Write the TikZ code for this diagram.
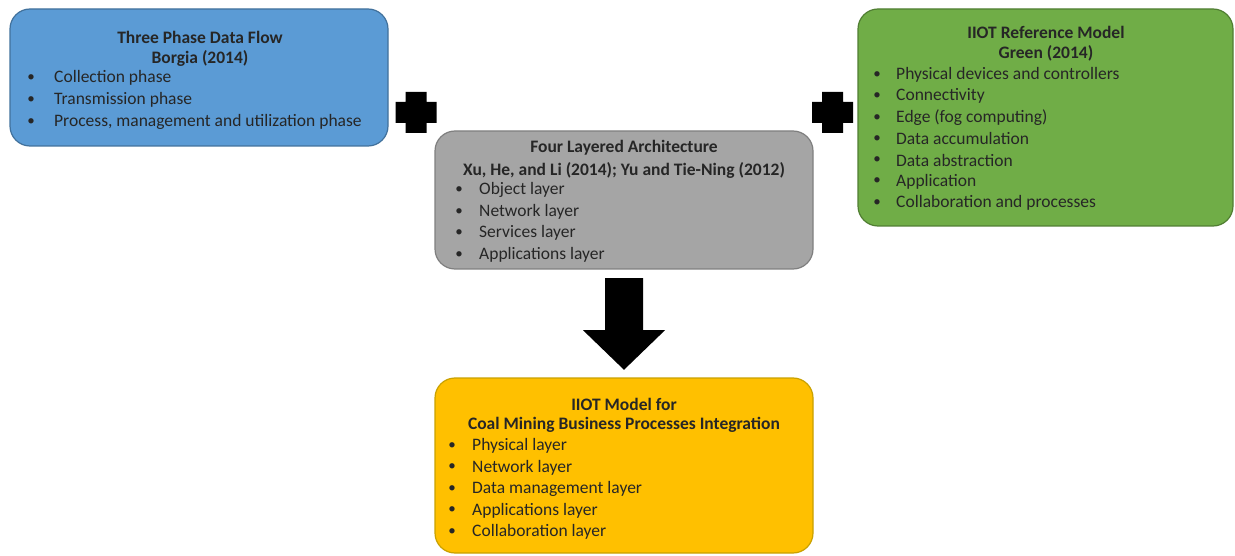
\documentclass[tikz,border=0pt]{standalone}
\usepackage{fontspec}
\setmainfont{Carlito}
\usetikzlibrary{calc}
\definecolor{bluefill}{HTML}{5B9BD5}
\definecolor{blueline}{HTML}{41719C}
\definecolor{greenfill}{HTML}{70AD47}
\definecolor{greenline}{HTML}{507E32}
\definecolor{grayfill}{HTML}{A5A5A5}
\definecolor{grayline}{HTML}{7F7F7F}
\definecolor{goldfill}{HTML}{FFC000}
\definecolor{goldline}{HTML}{C9A100}
\definecolor{inktext}{HTML}{262626}
\tikzset{
  panel/.style={rounded corners=20pt, line width=1.2pt},
  headline/.style={font=\fontsize{17.5}{21}\selectfont\bfseries, text=inktext, inner sep=0pt, anchor=center},
  item/.style={font=\fontsize{17.5}{21}\selectfont, text=inktext, inner sep=0pt, anchor=west},
  dot/.style={font=\fontsize{15}{19}\selectfont, text=inktext, inner sep=0pt, anchor=center},
}
\begin{document}
\begin{tikzpicture}[x=1pt,y=-1pt]
\useasboundingbox (0,0) rectangle (1235,556);

% boxes
\draw[panel, fill=bluefill, draw=blueline] (10,9) rectangle (388,146);
\node[inner sep=0pt, minimum width=378pt, minimum height=137pt] (phase) at (199,77.5) {};
\draw[panel, fill=greenfill, draw=greenline] (858,9) rectangle (1233,226);
\node[inner sep=0pt, minimum width=375pt, minimum height=217pt] (iiotref) at (1045.5,117.5) {};
\draw[panel, fill=grayfill, draw=grayline] (435,131) rectangle (813,269);
\node[inner sep=0pt, minimum width=378pt, minimum height=138pt] (four) at (624,200) {};
\draw[panel, fill=goldfill, draw=goldline] (435,378) rectangle (813,553);
\node[inner sep=0pt, minimum width=378pt, minimum height=175pt] (coal) at (624,465.5) {};

% blue box text
\node[headline] at (200,37) {Three Phase Data Flow};
\node[headline] at (200,58) {Borgia (2014)};
\foreach \t [count=\i] in {Collection phase, Transmission phase, {Process, management and utilization phase}}{
  \node[dot] at (31,{78+22*(\i-1)}) {•};
  \node[item] at (54,{78+22*(\i-1)}) {\t};
}

% green box text
\node[headline] at (1046,32) {IIOT Reference Model};
\node[headline] at (1046,53) {Green (2014)};
\foreach \t [count=\i] in {Physical devices and controllers, Connectivity, Edge (fog computing), Data accumulation, Data abstraction, Application, Collaboration and processes}{
  \node[dot] at (877,{75+21.3*(\i-1)}) {•};
  \node[item] at (896,{75+21.3*(\i-1)}) {\t};
}

% gray box text
\node[headline] at (624,148) {Four Layered Architecture};
\node[headline] at (624,170) {Xu, He, and Li (2014); Yu and Tie-Ning (2012)};
\foreach \t [count=\i] in {Object layer, Network layer, Services layer, Applications layer}{
  \node[dot] at (459,{190+21.6*(\i-1)}) {•};
  \node[item] at (479,{190+21.6*(\i-1)}) {\t};
}

% gold box text
\node[headline] at (624,404) {IIOT Model for};
\node[headline] at (624,425) {Coal Mining Business Processes Integration};
\foreach \t [count=\i] in {Physical layer, Network layer, Data management layer, Applications layer, Collaboration layer}{
  \node[dot] at (452,{446+21.5*(\i-1)}) {•};
  \node[item] at (472,{446+21.5*(\i-1)}) {\t};
}

% plus signs
\foreach \cx/\cy in {416/112.5, 832.5/112.5}{
  \fill[black] (\cx-10.5,\cy-20.5) -- (\cx+10.5,\cy-20.5) -- (\cx+10.5,\cy-10.5)
    -- (\cx+20.5,\cy-10.5) -- (\cx+20.5,\cy+10.5) -- (\cx+10.5,\cy+10.5)
    -- (\cx+10.5,\cy+20.5) -- (\cx-10.5,\cy+20.5) -- (\cx-10.5,\cy+10.5)
    -- (\cx-20.5,\cy+10.5) -- (\cx-20.5,\cy-10.5) -- (\cx-10.5,\cy-10.5) -- cycle;
}

% block arrow from the layered architecture down to the coal mining model
\fill[black] ($(four.south)+(-19,9)$) -- ($(four.south)+(19,9)$) -- ($(four.south)+(19,61)$)
  -- ($(four.south)+(41,61)$) -- ($(coal.north)+(0,-8)$) -- ($(four.south)+(-41,61)$)
  -- ($(four.south)+(-19,61)$) -- cycle;
\end{tikzpicture}
\end{document}
